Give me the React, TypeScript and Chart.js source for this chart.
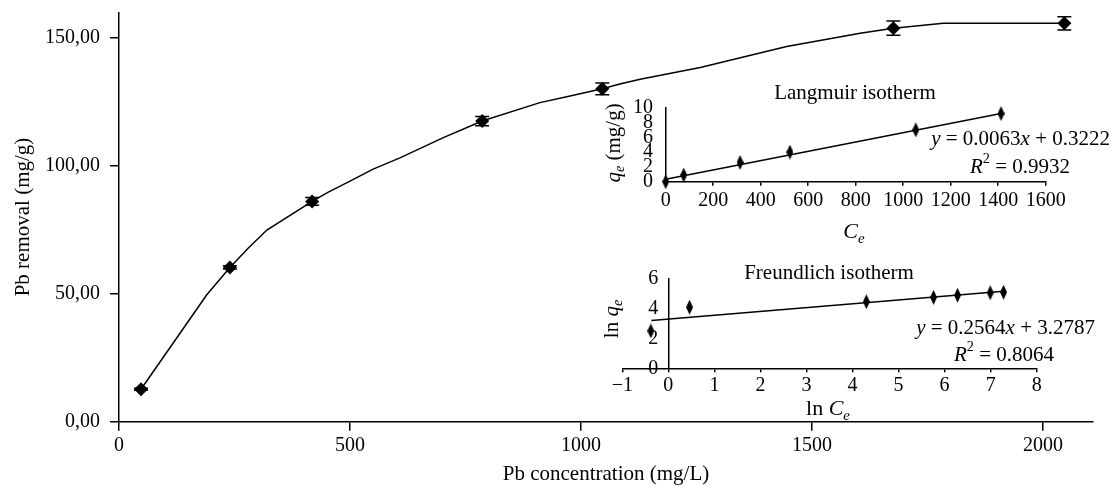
import React, { useEffect, useRef } from 'react';
import { Chart, registerables } from 'chart.js';

Chart.register(...registerables);

const SERIF = '"Liberation Serif", "Times New Roman", serif';

// ---- Main chart: Pb removal vs Pb concentration ----
const mainConc = [47.6, 240, 418, 786, 1046, 1676, 2046];
const mainRemoval = [12.7, 60.3, 86.1, 117.5, 130.1, 153.8, 155.7];
const mainError = [0.4, 0.6, 1.5, 1.8, 2.3, 2.8, 2.6];
const curveConc = [47.6, 190, 240, 280, 320, 418, 453, 500, 550, 608, 702, 786, 911, 969, 1046, 1084, 1128, 1258, 1445, 1604, 1676, 1784, 2046];
const curveRemoval = [12.7, 49.6, 60.3, 67.9, 74.9, 86.1, 89.7, 94, 98.7, 103.1, 111, 117.5, 124.7, 127, 130.1, 132, 133.8, 138.4, 146.6, 151.8, 153.8, 155.7, 155.7];
const mainXTicks = [0, 500, 1000, 1500, 2000];
const mainYTicks = [0, 50, 100, 150];

// ---- Langmuir inset ----
const langCe = [0, 76, 313, 523, 1053, 1412];
const langQe = [0, 0.9, 2.6, 4.0, 7.0, 9.2];
const langTrendCe = [0, 1412];
const langTrendQe = [0.32, 9.22];
const langXTicks = [0, 200, 400, 600, 800, 1000, 1200, 1400, 1600];
const langYTicks = [0, 2, 4, 6, 8, 10];

// ---- Freundlich inset ----
const freLnCe = [-0.38, 0.46, 4.3, 5.76, 6.28, 6.99, 7.28];
const freLnQe = [2.49, 4.07, 4.44, 4.73, 4.87, 5.04, 5.07];
const freTrendLnCe = [-0.37, 7.28];
const freTrendLnQe = [3.18, 5.14];
const freXTicks = [-1, 0, 1, 2, 3, 4, 5, 6, 7, 8];
const freYTicks = [0, 2, 4, 6];

type Part = { t: string; i?: boolean; sub?: boolean; sup?: boolean };

function partFont(p: Part, size: number) {
  const s = p.sub || p.sup ? size * 0.68 : size;
  return `${p.i ? 'italic ' : ''}${s}px ${SERIF}`;
}

function drawRich(
  ctx: CanvasRenderingContext2D,
  parts: Part[],
  x: number,
  y: number,
  align: 'left' | 'center' | 'right',
  size: number,
  rotate = false
) {
  ctx.save();
  ctx.translate(x, y);
  if (rotate) ctx.rotate(-Math.PI / 2);
  ctx.fillStyle = '#000';
  ctx.textBaseline = 'middle';
  ctx.textAlign = 'left';
  let total = 0;
  const widths = parts.map((p) => {
    ctx.font = partFont(p, size);
    const w = ctx.measureText(p.t).width;
    total += w;
    return w;
  });
  let cx = align === 'left' ? 0 : align === 'center' ? -total / 2 : -total;
  parts.forEach((p, k) => {
    ctx.font = partFont(p, size);
    const dy = p.sub ? size * 0.3 : p.sup ? -size * 0.35 : 0;
    ctx.fillText(p.t, cx, dy);
    cx += widths[k];
  });
  ctx.restore();
}

function makeNarrowDiamond(w: number, h: number) {
  const c = document.createElement('canvas');
  c.width = w;
  c.height = h;
  const g = c.getContext('2d')!;
  g.fillStyle = '#000';
  g.beginPath();
  g.moveTo(w / 2, 0);
  g.lineTo(w, h / 2);
  g.lineTo(w / 2, h);
  g.lineTo(0, h / 2);
  g.closePath();
  g.fill();
  return c;
}

const tickFont = { family: SERIF, size: 20 };
const titleFont = { family: SERIF, size: 21 };
const plainNumber = (v: any) => String(v);

const errorBarPlugin = {
  id: 'errorBars',
  afterDatasetsDraw(chart: any) {
    const xs = chart.scales.x;
    const ys = chart.scales.y;
    const ctx = chart.ctx as CanvasRenderingContext2D;
    ctx.save();
    ctx.strokeStyle = '#000';
    ctx.lineWidth = 1.5;
    mainConc.forEach((c, i) => {
      const px = xs.getPixelForValue(c);
      const top = ys.getPixelForValue(mainRemoval[i] + mainError[i]);
      const bot = ys.getPixelForValue(mainRemoval[i] - mainError[i]);
      ctx.beginPath();
      ctx.moveTo(px, top);
      ctx.lineTo(px, bot);
      ctx.moveTo(px - 7, top);
      ctx.lineTo(px + 7, top);
      ctx.moveTo(px - 7, bot);
      ctx.lineTo(px + 7, bot);
      ctx.stroke();
    });
    ctx.restore();
  },
};

function fixedTicks(values: number[]) {
  return (s: any) => {
    s.ticks = values.map((v) => ({ value: v }));
  };
}

function fitY(width?: number) {
  return (s: any) => {
    if (width !== undefined) s.width = width;
    s.paddingTop = 0;
    s.paddingBottom = 0;
  };
}

export default function App() {
  const mainRef = useRef<HTMLCanvasElement>(null);
  const langRef = useRef<HTMLCanvasElement>(null);
  const freRef = useRef<HTMLCanvasElement>(null);

  useEffect(() => {
    const diamond = makeNarrowDiamond(7, 15);

    const main = new Chart(mainRef.current!, {
      type: 'scatter',
      data: {
        datasets: [
          {
            data: curveConc.map((x, i) => ({ x, y: curveRemoval[i] })),
            showLine: true,
            borderColor: '#000',
            borderWidth: 1.5,
            pointRadius: 0,
            tension: 0,
            order: 2,
          },
          {
            data: mainConc.map((x, i) => ({ x, y: mainRemoval[i] })),
            showLine: false,
            pointStyle: 'rectRot',
            pointRadius: 7,
            backgroundColor: '#000',
            borderColor: '#000',
            borderWidth: 0,
            clip: false,
            order: 1,
          },
        ],
      } as any,
      options: {
        responsive: false,
        animation: false,
        devicePixelRatio: 1,
        layout: { autoPadding: false, padding: { top: 12.3, right: 19, left: 0, bottom: 0 } },
        plugins: { legend: { display: false }, tooltip: { enabled: false } },
        scales: {
          x: {
            type: 'linear',
            min: 0,
            max: 2108,
            afterBuildTicks: fixedTicks(mainXTicks),
            afterFit: (s: any) => {
              s.height = 65.3;
            },
            grid: { drawOnChartArea: false, drawTicks: true, tickLength: 9, color: '#000', lineWidth: 1.5 },
            border: { display: true, color: '#000', width: 1.5 },
            ticks: { color: '#000', font: tickFont, padding: 3.3, maxRotation: 0, callback: plainNumber },
            title: { display: true, text: 'Pb concentration (mg/L)', color: '#000', font: titleFont, padding: { top: 0, bottom: 0 } },
          },
          y: {
            type: 'linear',
            min: 0,
            max: 160,
            afterBuildTicks: fixedTicks(mainYTicks),
            afterFit: fitY(119),
            grid: { drawOnChartArea: false, drawTicks: true, tickLength: 9, color: '#000', lineWidth: 1.5 },
            border: { display: true, color: '#000', width: 1.5 },
            ticks: {
              color: '#000',
              font: tickFont,
              padding: 10,
              callback: (v: any) => Number(v).toFixed(2).replace('.', ','),
            },
            title: { display: true, text: 'Pb removal (mg/g)', color: '#000', font: titleFont, padding: { top: 11, bottom: 0 } },
          },
        },
      } as any,
      plugins: [errorBarPlugin],
    });

    const langText = {
      id: 'langText',
      afterDraw(chart: any) {
        const ctx = chart.ctx as CanvasRenderingContext2D;
        drawRich(ctx, [{ t: 'Langmuir isotherm' }], 265, 13, 'center', 21);
        drawRich(ctx, [{ t: 'y', i: true }, { t: ' = 0.0063' }, { t: 'x', i: true }, { t: ' + 0.3222' }], 520, 59, 'right', 21);
        drawRich(ctx, [{ t: 'R', i: true }, { t: '2', sup: true }, { t: ' = 0.9932' }], 480, 87, 'right', 21);
        drawRich(ctx, [{ t: 'C', i: true }, { t: 'e', i: true, sub: true }], 264, 152, 'center', 22);
        drawRich(ctx, [{ t: 'q', i: true }, { t: 'e', i: true, sub: true }, { t: ' (mg/g)' }], 24, 63, 'center', 21, true);
      },
    };

    const lang = new Chart(langRef.current!, {
      type: 'scatter',
      data: {
        datasets: [
          {
            data: langTrendCe.map((x, i) => ({ x, y: langTrendQe[i] })),
            showLine: true,
            borderColor: '#000',
            borderWidth: 1.5,
            pointRadius: 0,
            order: 2,
          },
          {
            data: langCe.map((x, i) => ({ x, y: langQe[i] })),
            showLine: false,
            pointStyle: diamond,
            pointRadius: 7,
            clip: false,
            order: 1,
          },
        ],
      } as any,
      options: {
        responsive: false,
        animation: false,
        devicePixelRatio: 1,
        layout: { autoPadding: false, padding: { top: 27.7, right: 66.3, left: 0, bottom: 0 } },
        plugins: { legend: { display: false }, tooltip: { enabled: false } },
        scales: {
          x: {
            type: 'linear',
            min: 0,
            max: 1600,
            afterBuildTicks: fixedTicks(langXTicks),
            afterFit: (s: any) => {
              s.height = 68.3;
            },
            grid: { drawOnChartArea: false, drawTicks: true, tickLength: 4, color: '#000', lineWidth: 1.5 },
            border: { display: true, color: '#000', width: 1.5 },
            ticks: { color: '#000', font: tickFont, padding: 3, maxRotation: 0, autoSkip: false, callback: plainNumber },
          },
          y: {
            type: 'linear',
            min: 0,
            max: 10,
            afterBuildTicks: fixedTicks(langYTicks),
            afterFit: fitY(75.7),
            grid: { display: false, drawTicks: false },
            border: { display: true, color: '#000', width: 1.5 },
            ticks: { color: '#000', font: tickFont, padding: 12.7, autoSkip: false, callback: plainNumber },
          },
        },
      } as any,
      plugins: [langText],
    });

    const freText = {
      id: 'freText',
      afterDraw(chart: any) {
        const ctx = chart.ctx as CanvasRenderingContext2D;
        drawRich(ctx, [{ t: 'Freundlich isotherm' }], 239, 15, 'center', 21);
        drawRich(ctx, [{ t: 'y', i: true }, { t: ' = 0.2564' }, { t: 'x', i: true }, { t: ' + 3.2787' }], 505, 70, 'right', 21);
        drawRich(ctx, [{ t: 'R', i: true }, { t: '2', sup: true }, { t: ' = 0.8064' }], 464, 97, 'right', 21);
        drawRich(ctx, [{ t: 'ln ' }, { t: 'C', i: true }, { t: 'e', i: true, sub: true }], 238, 151, 'center', 22);
        drawRich(ctx, [{ t: 'ln ' }, { t: 'q', i: true }, { t: 'e', i: true, sub: true }], 22, 61, 'center', 21, true);
      },
    };

    const fre = new Chart(freRef.current!, {
      type: 'scatter',
      data: {
        datasets: [
          {
            data: freTrendLnCe.map((x, i) => ({ x, y: freTrendLnQe[i] })),
            showLine: true,
            borderColor: '#000',
            borderWidth: 1.5,
            pointRadius: 0,
            order: 2,
          },
          {
            data: freLnCe.map((x, i) => ({ x, y: freLnQe[i] })),
            showLine: false,
            pointStyle: diamond,
            pointRadius: 7,
            clip: false,
            order: 1,
          },
        ],
      } as any,
      options: {
        responsive: false,
        animation: false,
        devicePixelRatio: 1,
        layout: { autoPadding: false, padding: { top: 20.3, right: 75.3, left: 32.3, bottom: 0 } },
        plugins: { legend: { display: false }, tooltip: { enabled: false } },
        scales: {
          x: {
            type: 'linear',
            position: 'bottom',
            min: -1,
            max: 8,
            afterBuildTicks: fixedTicks(freXTicks),
            afterFit: (s: any) => {
              s.height = 59.7;
            },
            grid: { drawOnChartArea: false, drawTicks: true, tickLength: 4, color: '#000', lineWidth: 1.5 },
            border: { display: true, color: '#000', width: 1.5 },
            ticks: {
              color: '#000',
              font: tickFont,
              padding: 1,
              maxRotation: 0,
              autoSkip: false,
              callback: (v: any) => (Number(v) < 0 ? '\u2212' + Math.abs(Number(v)) : String(v)),
            },
          },
          y: {
            type: 'linear',
            position: { x: 0 },
            min: 0,
            max: 6,
            afterBuildTicks: fixedTicks(freYTicks),
            afterFit: fitY(),
            grid: { display: false, drawTicks: false },
            border: { display: true, color: '#000', width: 1.5 },
            ticks: {
              color: '#000',
              font: tickFont,
              padding: 0,
              autoSkip: false,
              // trailing en space keeps the label clear of the axis line
              callback: (v: any) => String(v) + '\u2002',
            },
          },
        },
      } as any,
      plugins: [freText],
    });

    return () => {
      main.destroy();
      lang.destroy();
      fre.destroy();
    };
  }, []);

  return (
    <div style={{ position: 'absolute', left: 0, top: 0, width: 1112, height: 487, background: '#fff' }}>
      <canvas ref={mainRef} width={1112} height={487} style={{ position: 'absolute', left: 0, top: 0 }} />
      <canvas ref={langRef} width={522} height={170} style={{ position: 'absolute', left: 590, top: 80 }} />
      <canvas ref={freRef} width={522} height={170} style={{ position: 'absolute', left: 590, top: 258 }} />
    </div>
  );
}
